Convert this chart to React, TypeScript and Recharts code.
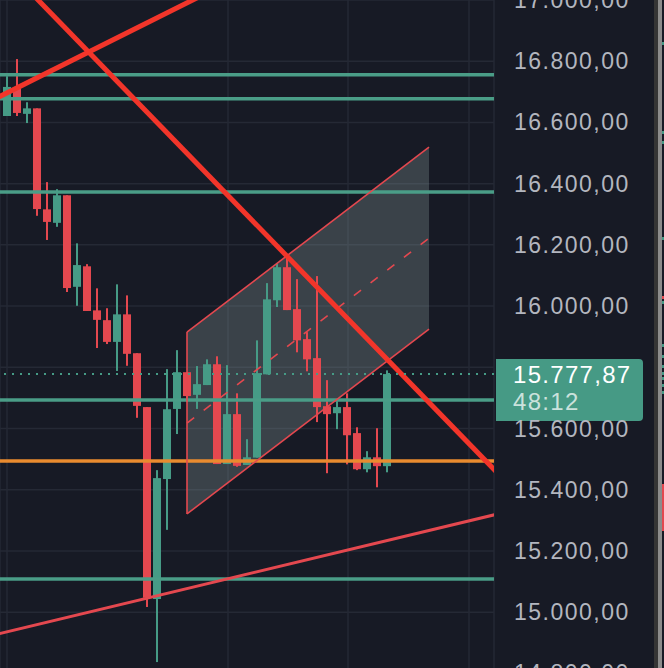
import React from 'react';
import { ComposedChart, Bar, Area, XAxis, YAxis, CartesianGrid, ReferenceLine } from 'recharts';

// ---- data ----
const opens = [16621, 16712, 16628, 16646, 16316, 16272, 16362, 16063, 16130, 15986, 15954, 15883, 15973, 15846, 15670, 15043, 15435, 15664, 15784, 15710, 15742, 15810, 15484, 15647, 15481, 15505, 15777, 16019, 16127, 15990, 15892, 15830, 15673, 15650, 15670, 15585, 15467, 15506, 15477];
const highs = [16751, 16807, 16666, 16646, 16405, 16382, 16362, 16205, 16137, 16058, 15993, 16071, 16035, 15846, 15670, 15464, 15794, 15856, 15784, 15804, 15826, 15836, 15807, 15715, 15565, 15888, 16075, 16140, 16163, 16088, 15915, 16098, 15758, 15689, 15715, 15604, 15526, 15601, 15790];
const lows = [16621, 16621, 16598, 16295, 16216, 16259, 16046, 16001, 15984, 15863, 15876, 15788, 15805, 15635, 15017, 14837, 15269, 15582, 15687, 15664, 15742, 15484, 15484, 15475, 15481, 15505, 15777, 15997, 15987, 15849, 15787, 15621, 15454, 15598, 15483, 15464, 15457, 15408, 15457];
const closes = [16716, 16631, 16646, 16317, 16275, 16362, 16059, 16134, 15984, 15955, 15883, 15973, 15844, 15674, 15047, 15438, 15663, 15784, 15706, 15745, 15810, 15484, 15647, 15478, 15506, 15781, 16022, 16127, 15987, 15888, 15826, 15670, 15647, 15670, 15578, 15467, 15506, 15477, 15777.87];

const priceTicks = [14800, 15000, 15200, 15400, 15600, 15800, 16000, 16200, 16400, 16600, 16800, 17000];
const hiddenTickLabel = 15800;
const timeGridTicks = [0, 22.1, 34.1, 46.2];
const greenLevels = [16756, 16677, 16373, 15693, 15108];
const orangeLevel = 15494;
const lastPrice = 15777.87;
const countdown = '48:12';

const descendingTrend = [{ x: 1, y: 17071 }, { x: 50, y: 15423 }];
const ascendingTrend = [{ x: -2, y: 16664 }, { x: 22, y: 17056 }];
const lowerTrend = [{ x: -2, y: 14920 }, { x: 50, y: 15328 }];

const channelX = [18, 42.2];
const channelUpper = [15915, 16519];
const channelLower = [15321, 15925];

// ---- derived ----
const candles = opens.map((o, i) => ({
  i,
  open: o,
  high: highs[i],
  low: lows[i],
  close: closes[i],
  range: [lows[i], highs[i]],
}));
const channelData = channelX.map((x, k) => ({ i: x, band: [channelLower[k], channelUpper[k]] }));
const channelMid = channelX.map((x, k) => ({ x, y: (channelUpper[k] + channelLower[k]) / 2 }));

// ---- styles ----
const BG = '#171a25';
const GRID = '#252935';
const GREEN = '#469b86';
const LEVEL_GREEN = '#4a9d87';
const RED = '#e4484f';
const TREND = '#f2352a';
const ORANGE = '#e98b2f';
const TICK = '#b3b6bf';
const FONT = '"Liberation Sans", Arial, sans-serif';

const fmt = (v: number) => {
  const [int, dec] = v.toFixed(2).split('.');
  return int.replace(/\B(?=(\d{3})+(?!\d))/g, '.') + ',' + dec;
};

const Candle = (props: any) => {
  const { x, y, width, height, payload } = props;
  if (height == null || !payload) return null;
  const { open, close, high, low } = payload;
  const up = close >= open;
  const color = up ? GREEN : RED;
  const k = height / (high - low || 1);
  const yTop = y + (high - Math.max(open, close)) * k;
  const yBot = y + (high - Math.min(open, close)) * k;
  const cx = x + width / 2;
  return (
    <g>
      <rect x={cx - 1} y={y} width={2} height={height} fill={color} />
      <rect x={x} y={yTop} width={width} height={Math.max(1.5, yBot - yTop)} fill={color} />
    </g>
  );
};

const PriceTag = (props: any) => {
  const vb = props.viewBox || {};
  const x0 = (vb.x || 0) + (vb.width || 0) + 2;
  const y = vb.y || 0;
  const x1 = x0 + 147;
  const top = y - 15;
  const bot = y + 47;
  const r = 4;
  const d = `M${x0},${top} L${x1 - r},${top} Q${x1},${top} ${x1},${top + r} L${x1},${bot - r} Q${x1},${bot} ${x1 - r},${bot} L${x0},${bot} Z`;
  return (
    <g>
      <path d={d} fill="#469a85" />
      <text x={x0 + 17} y={y + 8.5} fill="#ffffff" fontSize={24} fontFamily={FONT} letterSpacing={1.3}>
        {fmt(lastPrice)}
      </text>
      <text x={x0 + 17} y={y + 36} fill="rgba(255,255,255,0.72)" fontSize={24} fontFamily={FONT} letterSpacing={1.3}>
        {countdown}
      </text>
    </g>
  );
};

const PriceTick = (props: any) => {
  const v = props.payload?.value;
  if (v === hiddenTickLabel) return <g />;
  return (
    <text x={514} y={props.y} dy={8} fill={TICK} fontSize={23} fontFamily={FONT} letterSpacing={1.5} textAnchor="start">
      {fmt(v)}
    </text>
  );
};

const stripMarks = [
  { y: 42, c: GREEN }, { y: 131, c: GREEN }, { y: 141, c: GREEN }, { y: 237, c: GREEN },
  { y: 296, c: RED }, { y: 301, c: GREEN }, { y: 344, c: GREEN }, { y: 355, c: GREEN },
  { y: 365, c: GREEN }, { y: 372, c: GREEN }, { y: 377, c: GREEN }, { y: 384, c: GREEN }, { y: 391, c: GREEN },
];

export default function App() {
  return (
    <div style={{ position: 'absolute', left: 0, top: 0, width: 664, height: 668, overflow: 'hidden', background: BG }}>
      <ComposedChart width={664} height={704} data={candles} margin={{ top: 0, right: 0, bottom: 0, left: 0 }}>
        <CartesianGrid stroke={GRID} strokeWidth={1.5} />
        <XAxis dataKey="i" type="number" domain={[-0.7, 48.7]} allowDataOverflow ticks={timeGridTicks} hide />
        <YAxis
          orientation="right"
          width={170}
          domain={[14700, 17000]}
          allowDataOverflow
          ticks={priceTicks}
          axisLine={false}
          tickLine={false}
          tick={<PriceTick />}
          interval={0}
        />
        {greenLevels.map((v) => (
          <ReferenceLine key={v} y={v} stroke={LEVEL_GREEN} strokeWidth={3.5} />
        ))}
        <ReferenceLine y={orangeLevel} stroke={ORANGE} strokeWidth={3.5} />
        <Area
          data={channelData}
          dataKey="band"
          type="linear"
          stroke="none"
          fill="#8a9ea0"
          fillOpacity={0.3}
          isAnimationActive={false}
          activeDot={false}
          dot={false}
        />
        <Bar dataKey="range" barSize={8} shape={<Candle />} isAnimationActive={false} />
        <ReferenceLine
          segment={[{ x: channelX[0], y: channelUpper[0] }, { x: channelX[1], y: channelUpper[1] }]}
          stroke={RED}
          strokeWidth={1.6}
        />
        <ReferenceLine
          segment={[{ x: channelX[0], y: channelLower[0] }, { x: channelX[1], y: channelLower[1] }]}
          stroke={RED}
          strokeWidth={1.6}
        />
        <ReferenceLine
          segment={[{ x: channelX[0], y: channelLower[0] }, { x: channelX[0], y: channelUpper[0] }]}
          stroke={RED}
          strokeWidth={1.6}
        />
        <ReferenceLine segment={channelMid} stroke={RED} strokeWidth={1.6} strokeDasharray="9 12" />
        <ReferenceLine segment={lowerTrend} stroke={RED} strokeWidth={3} ifOverflow="hidden" />
        <ReferenceLine segment={ascendingTrend} stroke={TREND} strokeWidth={5} ifOverflow="hidden" />
        <ReferenceLine segment={descendingTrend} stroke={TREND} strokeWidth={5} ifOverflow="hidden" />
        <ReferenceLine
          y={lastPrice}
          stroke={GREEN}
          strokeWidth={2}
          strokeDasharray="2 6"
          label={(p: any) => <PriceTag {...p} />}
        />
      </ComposedChart>
      <div style={{ position: 'absolute', left: 654, top: 0, width: 4, height: 668, background: '#353535' }} />
      <div style={{ position: 'absolute', left: 658, top: 0, width: 4, height: 668, background: '#8c8c8c' }} />
      {stripMarks.map((m, k) => (
        <div key={k} style={{ position: 'absolute', left: 662, top: m.y, width: 2, height: 3, background: m.c }} />
      ))}
      <div style={{ position: 'absolute', left: 662, top: 484, width: 2, height: 47, background: RED }} />
    </div>
  );
}
